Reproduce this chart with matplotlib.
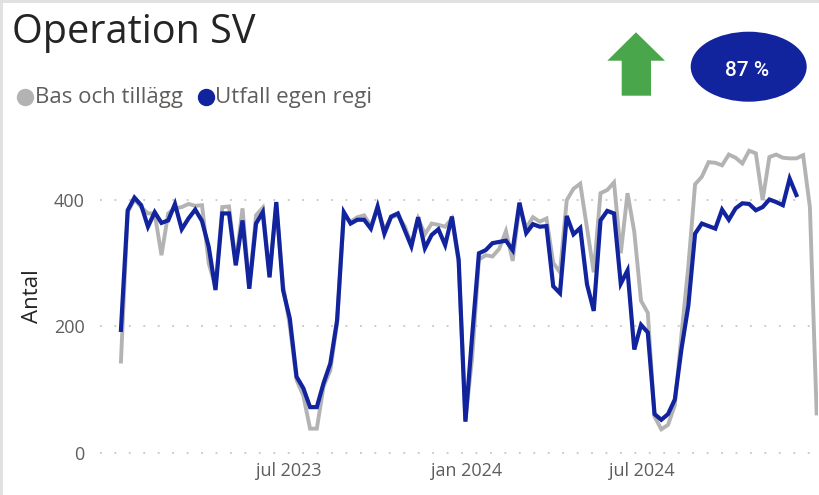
import matplotlib
matplotlib.use("Agg")
import matplotlib.pyplot as plt
import matplotlib.transforms as mtransforms
from matplotlib.patches import Ellipse, Polygon, Rectangle
from matplotlib.lines import Line2D
import numpy as np
import pandas as pd

# ---- data ----
weeks = pd.date_range("2023-01-02", periods=104, freq="7D")

bas_och_tillagg = [
    144, 380, 400, 388, 378, 378, 312, 378, 386, 388,
    393, 390, 391, 299, 262, 388, 389, 300, 386, 262,
    375, 387, 280, 390, 265, 200, 115, 90, 38, 38,
    105, 130, 205, 375, 365, 372, 375, 358, 385, 352,
    372, 375, 358, 330, 370, 345, 362, 360, 357, 370,
    300, 52, 150, 305, 312, 310, 322, 350, 303, 390,
    355, 372, 365, 370, 300, 285, 399, 417, 425, 355,
    285, 410, 415, 427, 315, 410, 349, 240, 221, 57,
    37, 44, 75, 188, 294, 424, 436, 459, 458, 454,
    471, 466, 457, 477, 473, 399, 467, 471, 466, 465,
    465, 470, 388, 62,
]

utfall_egen_regi = [
    194, 383, 403, 391, 357, 380, 363, 367, 393, 353,
    370, 384, 366, 325, 257, 378, 378, 296, 367, 259,
    362, 380, 277, 396, 257, 212, 120, 102, 72, 72,
    110, 141, 209, 380, 362, 368, 368, 354, 389, 346,
    373, 378, 352, 326, 372, 323, 344, 353, 328, 373,
    305, 49, 185, 315, 320, 331, 333, 335, 320, 395,
    347, 361, 357, 358, 263, 252, 374, 345, 355, 266,
    224, 367, 382, 378, 267, 288, 163, 202, 190, 61,
    52, 61, 84, 165, 232, 346, 362, 358, 354, 384,
    368, 386, 394, 393, 383, 388, 400, 396, 391, 433,
    407,
]

series_names = ["Bas och tillägg", "Utfall egen regi"]
tick_dates = ["2023-07-01", "2024-01-01", "2024-07-01"]
tick_labels = ["jul 2023", "jan 2024", "jul 2024"]
y_ticks = [0, 200, 400]
kpi_text = "87 %"

# ---- style ----
W, H = 820, 495
FONT = ["Open Sans", "DejaVu Sans"]
plt.rcParams["font.family"] = FONT
GRAY = "#B3B3B3"
BLUE = "#12239E"
TXT = "#605E5C"

fig = plt.figure(figsize=(W / 100, H / 100), dpi=100)
fig.patch.set_facecolor("white")

def fx(px):
    return px / W

def fy(py):
    return 1 - py / H

# axes placement (pixel based)
ax_left, ax_right, ax_top, ax_bottom = 100, 818, 140, 452.7
ax = fig.add_axes([fx(ax_left), fy(ax_bottom), (ax_right - ax_left) / W, (ax_bottom - ax_top) / H])

ax.plot(weeks, bas_och_tillagg, color=GRAY, lw=2.8, solid_joinstyle="miter", zorder=2)
ax.plot(weeks[:len(utfall_egen_regi)], utfall_egen_regi, color=BLUE, lw=3.0,
        solid_joinstyle="miter", zorder=3)

step = weeks[1] - weeks[0]
ax.set_xlim(weeks[0] - step * 3.1, weeks[-1] + step * 0.2)
ax.set_ylim(0, 494)

ax.set_yticks(y_ticks)
ax.set_yticklabels([str(v) for v in y_ticks])
ax.set_xticks(pd.to_datetime(tick_dates))
ax.set_xticklabels(tick_labels)
ax.tick_params(axis="both", length=0, colors=TXT, labelsize=13)
ax.tick_params(axis="y", pad=11)
ax.tick_params(axis="x", pad=7)
shift = mtransforms.ScaledTranslation(-6 / 100, 0, fig.dpi_scale_trans)
for lbl in ax.get_xticklabels():
    lbl.set_transform(lbl.get_transform() + shift)
for s in ax.spines.values():
    s.set_visible(False)
ax.grid(axis="y", color="#C8C6C4", linestyle=(0, (1, 7)), linewidth=1.3, clip_on=False)
ax.grid(axis="x", visible=False)
ax.set_axisbelow(True)
ax.set_ylabel("Antal", fontsize=16, color="#252423", labelpad=8)

# title
fig.text(fx(12), fy(33), "Operation SV", fontsize=28.5, color="#252423", va="center", ha="left")

# legend
fig.add_artist(Line2D([fx(25)], [fy(97)], marker="o", markersize=11.5, color=GRAY, linestyle="none"))
fig.text(fx(35), fy(97), series_names[0], fontsize=16, color=TXT, va="center", ha="left")
fig.add_artist(Line2D([fx(206)], [fy(97)], marker="o", markersize=11.5, color=BLUE, linestyle="none"))
fig.text(fx(215), fy(97), series_names[1], fontsize=16, color=TXT, va="center", ha="left")

# green arrow
arrow_px = [(636, 32.3), (665, 60.7), (651, 60.7), (651, 95.7), (621.7, 95.7), (621.7, 60.7), (607.3, 60.7)]
fig.add_artist(Polygon([(fx(x), fy(y)) for x, y in arrow_px], closed=True,
                       facecolor="#4AA64A", edgecolor="none", transform=fig.transFigure))

# KPI ellipse
fig.add_artist(Ellipse((fx(748.7), fy(66.7)), 116 / W, 70 / H, facecolor="#12239E",
                       edgecolor="none", transform=fig.transFigure))
fig.text(fx(747.5), fy(70), kpi_text, fontsize=15, color="white", ha="center", va="center",
         family=["Roboto", "DejaVu Sans"], weight="medium")

# frame border (left & top)
fig.add_artist(Rectangle((0, 0), fx(3), 1, facecolor="#E1E1E1", edgecolor="none", transform=fig.transFigure))
fig.add_artist(Rectangle((0, fy(3)), 1, 3 / H, facecolor="#E1E1E1", edgecolor="none", transform=fig.transFigure))

fig.savefig("out.png", dpi=100)
